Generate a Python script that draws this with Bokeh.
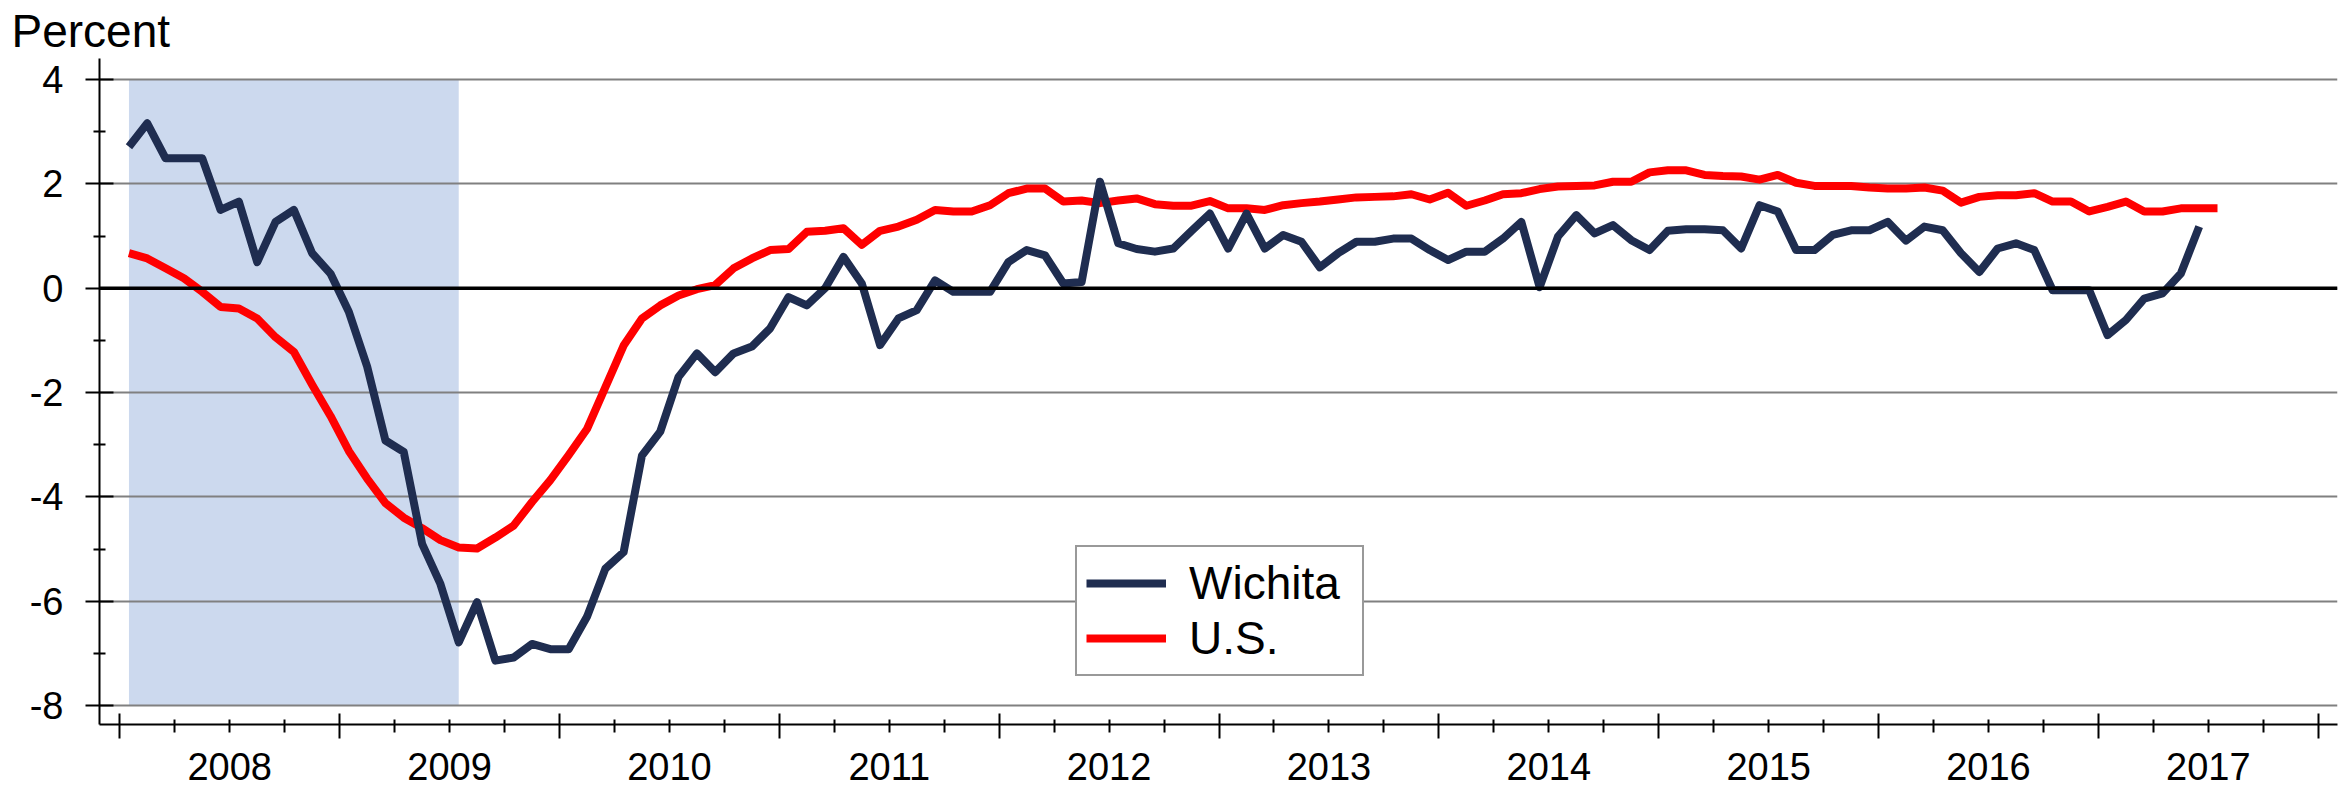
from bokeh.plotting import figure
from bokeh.models import (Range1d, FixedTicker, LinearAxis, Grid, Span,
                          BoxAnnotation, Legend, LegendItem)
from bokeh.embed import file_html
from bokeh.resources import INLINE

# ---------------- data ----------------
years = ["2008", "2009", "2010", "2011", "2012", "2013", "2014", "2015", "2016", "2017"]

# monthly values starting January 2008 (percent change, year over year)
wichita = [2.71, 3.16, 2.49, 2.49, 2.49, 1.50, 1.66, 0.50, 1.27, 1.50, 0.67, 0.28,
           -0.45, -1.50, -2.92, -3.14, -4.90, -5.67, -6.79, -6.02, -7.14, -7.08, -6.82, -6.92,
           -6.92, -6.30, -5.38, -5.06, -3.21, -2.75, -1.70, -1.25, -1.61, -1.25, -1.12, -0.77,
           -0.17, -0.33, 0.00, 0.60, 0.09, -1.09, -0.58, -0.42, 0.15, -0.07, -0.07, -0.07,
           0.50, 0.73, 0.63, 0.09, 0.12, 2.04, 0.86, 0.75, 0.70, 0.76, 1.10, 1.43,
           0.76, 1.43, 0.76, 1.02, 0.89, 0.40, 0.67, 0.89, 0.89, 0.95, 0.95, 0.73,
           0.54, 0.70, 0.70, 0.95, 1.27, 0.02, 0.99, 1.40, 1.05, 1.21, 0.92, 0.73,
           1.10, 1.13, 1.13, 1.11, 0.76, 1.59, 1.47, 0.73, 0.73, 1.02, 1.11, 1.11,
           1.27, 0.91, 1.18, 1.11, 0.67, 0.31, 0.76, 0.86, 0.73, -0.04, -0.04, -0.04,
           -0.90, -0.61, -0.20, -0.10, 0.28, 1.18]

us = [0.67, 0.57, 0.38, 0.19, -0.07, -0.36, -0.39, -0.58, -0.94, -1.22, -1.85, -2.45,
      -3.12, -3.65, -4.12, -4.40, -4.60, -4.83, -4.97, -4.99, -4.78, -4.55, -4.10, -3.68,
      -3.20, -2.70, -1.90, -1.10, -0.58, -0.33, -0.14, -0.02, 0.06, 0.38, 0.57, 0.73,
      0.75, 1.08, 1.10, 1.15, 0.83, 1.10, 1.18, 1.31, 1.50, 1.47, 1.47, 1.59,
      1.82, 1.91, 1.91, 1.66, 1.68, 1.63, 1.68, 1.72, 1.61, 1.58, 1.58, 1.67,
      1.53, 1.53, 1.50, 1.59, 1.63, 1.66, 1.70, 1.74, 1.75, 1.76, 1.80, 1.70,
      1.83, 1.58, 1.68, 1.80, 1.82, 1.90, 1.95, 1.96, 1.97, 2.04, 2.04, 2.22,
      2.26, 2.26, 2.17, 2.15, 2.14, 2.08, 2.17, 2.02, 1.96, 1.96, 1.96, 1.93,
      1.91, 1.91, 1.93, 1.87, 1.64, 1.75, 1.78, 1.78, 1.82, 1.66, 1.66, 1.47,
      1.56, 1.66, 1.47, 1.47, 1.53, 1.53, 1.53]

y_ticks = [-8, -6, -4, -2, 0, 2, 4]
y_minor = [-7, -5, -3, -1, 1, 3]

# recession shading: Jan 2008 through Jul 2009 (month index from Jan 2008)
recession_start_month = 0
recession_end_month = 18

# ---------------- derived positions (month axis) ----------------
x_w = [i + 0.5 for i in range(len(wichita))]
x_us = [i + 0.5 for i in range(len(us))]
n_years = len(years)
year_bounds = [12 * k for k in range(n_years + 1)]
quarter_ticks = [12 * k + q for k in range(n_years) for q in (3, 6, 9)]
label_ticks = [12 * k + 6 for k in range(n_years)]

FONT = "Liberation Sans"
NAVY = "#1F2D50"
RED = "#FF0000"

p = figure(width=2351, height=788, output_backend="svg", toolbar_location=None,
           x_range=Range1d(-1.108, 121.05), y_range=Range1d(-8.364, 4.4025),
           x_axis_location=None, y_axis_location=None,
           title="Percent", title_location="above",
           min_border_left=99, min_border_right=14, min_border_top=58, min_border_bottom=64,
           outline_line_color=None, background_fill_color="white",
           border_fill_color="white")
p.grid.visible = False

t = p.title
t.align = "left"
t.offset = -88
t.standoff = 3
t.text_font = FONT
t.text_font_size = "46px"
t.text_font_style = "normal"
t.text_color = "black"

# recession shading
shade = BoxAnnotation(left=recession_start_month + 0.5, right=recession_end_month + 0.5,
                      bottom=min(y_ticks), top=max(y_ticks),
                      fill_color="#CCD9EE", fill_alpha=1.0, line_color=None, level="underlay")
p.add_layout(shade)

yticker = FixedTicker(ticks=y_ticks, minor_ticks=y_minor)
p.add_layout(Grid(dimension=1, ticker=yticker, grid_line_color="#808080",
                  grid_line_width=2, level="underlay"))
p.add_layout(Span(location=0, dimension="width", line_color="black", line_width=3.5))

# y axis
yaxis = LinearAxis(ticker=yticker,
                   major_label_overrides={t_: str(t_) for t_ in y_ticks},
                   axis_line_color="black", axis_line_width=2,
                   major_tick_line_color="black", major_tick_line_width=2,
                   minor_tick_line_color="black", minor_tick_line_width=2,
                   major_tick_in=14, major_tick_out=14, minor_tick_in=6, minor_tick_out=6,
                   major_label_standoff=22, major_label_text_font=FONT,
                   major_label_text_font_size="38px", major_label_text_color="black")
p.add_layout(yaxis, "left")

# x axis: tick marks
xa = LinearAxis(ticker=FixedTicker(ticks=year_bounds, minor_ticks=quarter_ticks),
                major_label_overrides={t_: "" for t_ in year_bounds},
                major_label_text_font_size="1px", major_label_standoff=0,
                axis_line_color="black", axis_line_width=2,
                major_tick_line_color="black", major_tick_line_width=2,
                minor_tick_line_color="black", minor_tick_line_width=2,
                major_tick_in=11, major_tick_out=14, minor_tick_in=5, minor_tick_out=8)
p.add_layout(xa, "below")

# x axis: year labels centred in each year
xb = LinearAxis(ticker=FixedTicker(ticks=label_ticks, minor_ticks=[]),
                major_label_overrides={t_: y for t_, y in zip(label_ticks, years)},
                axis_line_color=None, major_tick_line_color=None, minor_tick_line_color=None,
                major_tick_in=0, major_tick_out=0, minor_tick_in=0, minor_tick_out=0,
                major_label_standoff=14, major_label_text_font=FONT,
                major_label_text_line_height=0.9,
                major_label_text_font_size="38px", major_label_text_color="black")
p.add_layout(xb, "below")

r_us = p.line(x_us, us, line_color=RED, line_width=8, line_join="round")
r_w = p.line(x_w, wichita, line_color=NAVY, line_width=8, line_join="round")

legend = Legend(items=[LegendItem(label="Wichita", renderers=[r_w]),
                       LegendItem(label="U.S.", renderers=[r_us])],
                location=(976, 48), orientation="vertical",
                border_line_color="#333333", border_line_width=2,
                background_fill_color="white", background_fill_alpha=1.0,
                label_text_font=FONT, label_text_font_size="46px", label_text_color="black",
                glyph_width=80, glyph_height=20, label_standoff=23, label_width=164,
                padding=9, spacing=1, margin=0)
p.add_layout(legend)

open("out.html", "w").write(file_html(p, INLINE))
